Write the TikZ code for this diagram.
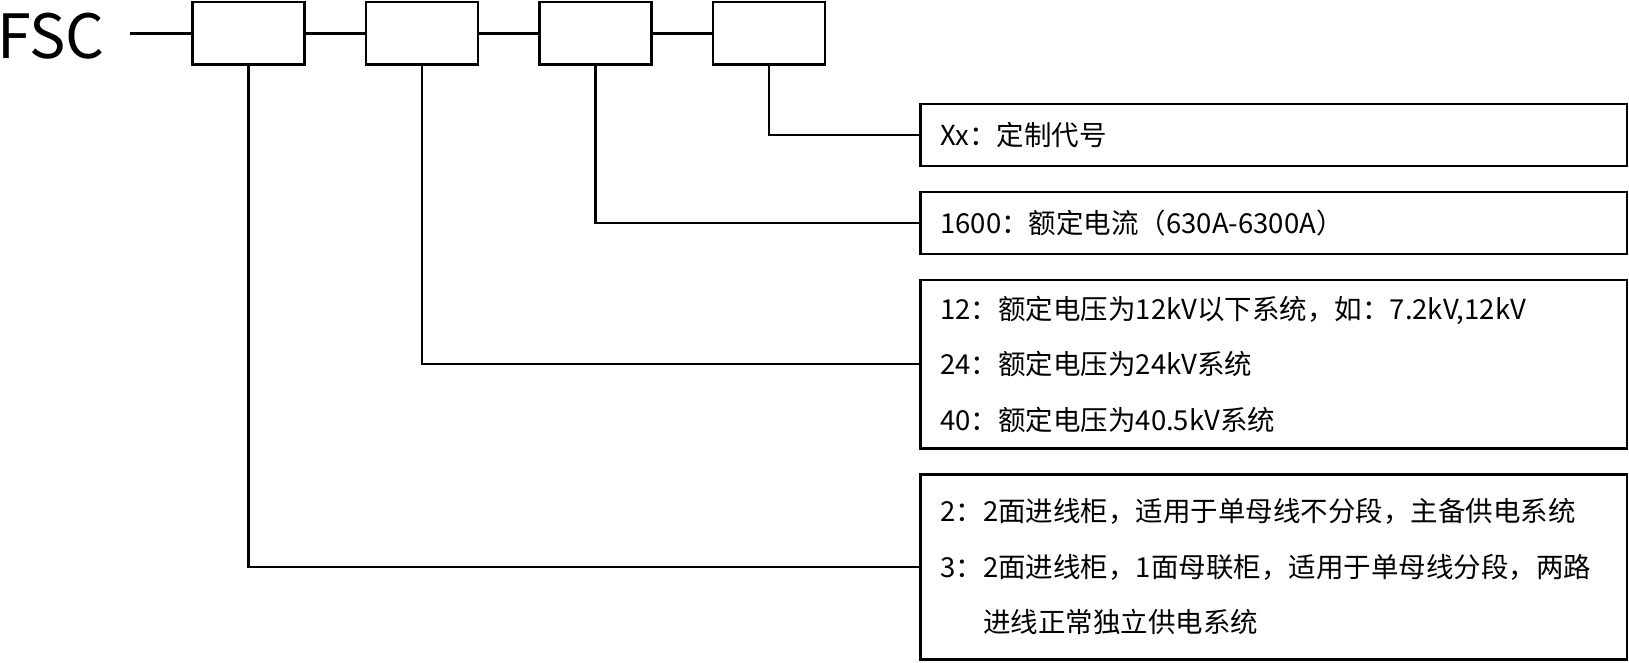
\documentclass[tikz,border=0pt]{standalone}
\usepackage{fontspec}
\setmainfont{Noto Sans CJK SC}
\usetikzlibrary{positioning}
\newcommand{\descfont}{\fontsize{27.5}{55.6}\selectfont}
\tikzset{%
	code/.style={draw, rectangle, minimum width=112pt, minimum height=62.3pt, inner sep=0pt, line width=2.6pt},
	desc/.style={draw, rectangle, minimum width=706.5pt, text width=667pt, inner xsep=19.7pt,%
		align=left, line width=2.6pt, font=\descfont},
	connector/.style={line width=2.6pt}
}

\begin{document}
\begin{tikzpicture}[x=1pt, y=1pt]
	\useasboundingbox (0,0) rectangle (1629,-662);

	\node[font=\fontsize{61}{61}\selectfont, anchor=west, inner xsep=0pt] (fsc) at (-3,-36) {FSC};
	\coordinate (lead) at (130,-33.25);

	\node[code]                     (c1) at (248.3,-33.25) {};
	\node[code, right=58.9pt of c1] (c2) {};
	\node[code, right=58.9pt of c2] (c3) {};
	\node[code, right=58.9pt of c3] (c4) {};

	\node[desc, minimum height=62pt, anchor=north west] (xx) at (919.2,-102.7) {Xx：定制代号};
	\node[desc, minimum height=62pt, below=23.4pt of xx]    (cur)   {1600：额定电流（630A-6300A）};
	\node[desc, minimum height=168.3pt, below=23.4pt of cur] (volt)  {12：额定电压为12kV以下系统，如：7.2kV,12kV\\
		24：额定电压为24kV系统\\
		40：额定电压为40.5kV系统};
	\node[desc, minimum height=185pt, below=23.4pt of volt] (panel) {2：2面进线柜，适用于单母线不分段，主备供电系统\\
		3：2面进线柜，1面母联柜，适用于单母线分段，两路\\
		\phantom{3：}进线正常独立供电系统};

	\draw[connector] (lead) -- (c1) (c1) -- (c2) (c2) -- (c3) (c3) -- (c4);
	\draw[connector] (c1.south) |- (panel.west);
	\draw[connector] (c2.south) |- (volt.west);
	\draw[connector] (c3.south) |- (cur.west);
	\draw[connector] (c4.south) |- (xx.west);
\end{tikzpicture}
\end{document}
